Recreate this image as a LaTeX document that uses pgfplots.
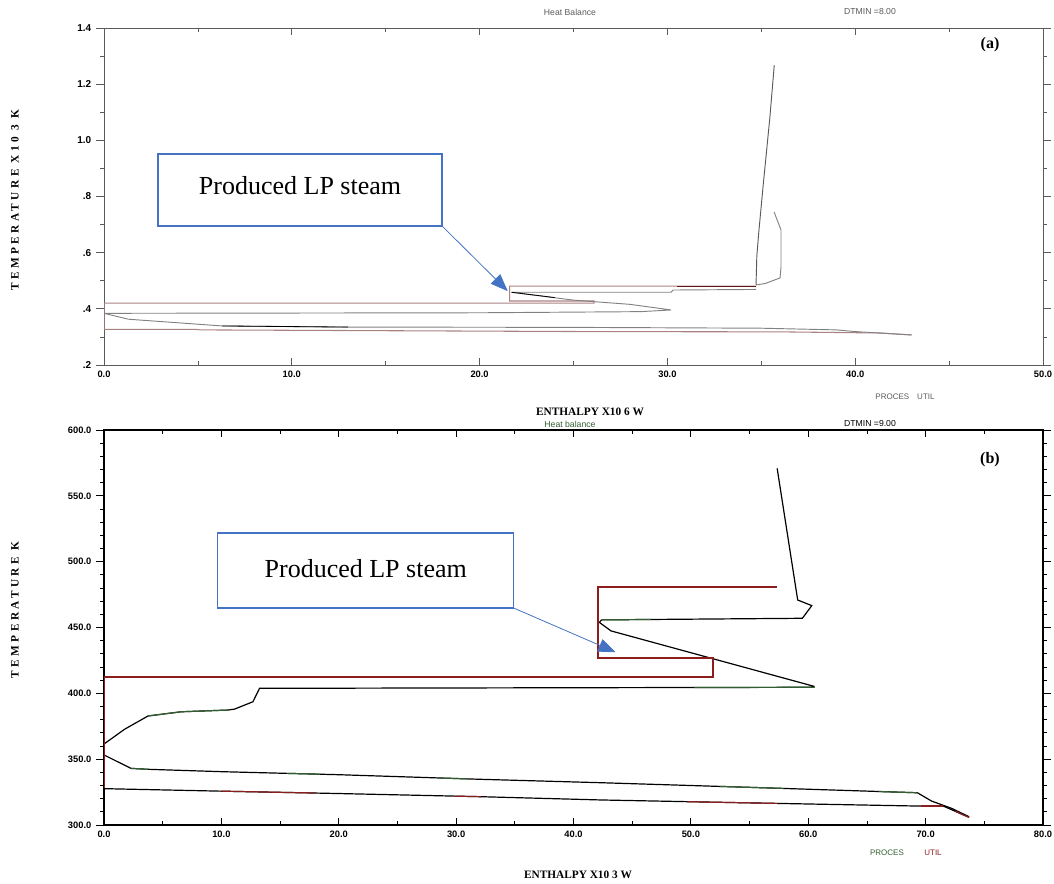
\documentclass[border=0pt]{standalone}
\usepackage{fontspec}
\setmainfont{Liberation Sans}
\newfontfamily\tnr{Liberation Serif}
\newfontfamily\tnrspaced[LetterSpace=30]{Liberation Serif}
\usepackage{pgfplots}
\pgfplotsset{compat=1.18}
\usetikzlibrary{arrows.meta}

\definecolor{boxblue}{RGB}{68,114,196}
\definecolor{agrey}{RGB}{130,130,130}
\definecolor{adark}{RGB}{90,90,90}
\definecolor{arose}{RGB}{170,130,130}
\definecolor{utilred}{RGB}{140,30,30}
\definecolor{procgreen}{RGB}{50,95,50}

% 1 px of the reference = 0.75pt
\pgfplotsset{
  panel/.style={
    at={(78pt,#1)}, anchor=south west, scale only axis,
    width=704.25pt,
  },
  ticksx/.style={
    tick align=inside, ytick=\empty,
    major tick length=5pt, minor tick length=3pt,
    xticklabel style={font=\bfseries\fontsize{7}{8}\selectfont, yshift=-1pt},
  },
  ticksy/.style={
    tick align=outside, xtick=\empty,
    major tick length=6pt, minor tick length=3pt,
    yticklabel style={font=\bfseries\fontsize{7}{8}\selectfont},
    axis line style={draw=none},
  },
}

\begin{document}
\begin{tikzpicture}
\path[use as bounding box] (0,0) rectangle (790.5pt,662.25pt);

% ---------------- panel (a) ----------------
\begin{axis}[panel=388.5pt, height=252.75pt, ticksx,
  xmin=0, xmax=50, ymin=0.2, ymax=1.4,
  xtick={0,10,20,30,40,50}, xticklabels={0.0,10.0,20.0,30.0,40.0,50.0},
  minor x tick num=1,
  axis line style={adark, line width=0.6pt},
  every tick/.style={adark, line width=0.5pt}]
\addplot[adark, line width=0.7pt] coordinates {(35.69,1.268) (35.46,1.084) (35.11,0.847) (34.86,0.669) (34.76,0.586) (34.72,0.485)};
\addplot[agrey, line width=0.7pt] coordinates {(35.68,0.745) (36.05,0.681) (36.05,0.549) (36.0,0.510) (35.2,0.490) (34.72,0.485)};
\addplot[arose, line width=0.8pt] coordinates {(34.72,0.481) (21.6,0.481) (21.6,0.428) (26.1,0.428) (26.1,0.420) (0,0.420) (0,0.327) (4.9,0.327) (5.1,0.325) (15.4,0.322) (25.7,0.319) (36.0,0.318) (41.3,0.314) (43.0,0.307)};
\addplot[agrey, line width=0.7pt] coordinates {(34.72,0.469) (30.3,0.467) (30.2,0.459) (21.7,0.459) (25.0,0.431) (28.0,0.416) (30.2,0.396) (28.6,0.390) (20.1,0.386) (0,0.384) (1.3,0.363) (6.3,0.339) (13.0,0.335) (24.9,0.334) (35.0,0.331) (39.0,0.325) (40.0,0.319) (43.0,0.307)};
\addplot[black, line width=0.6pt] coordinates {(6.3,0.339) (13.0,0.335)};
\addplot[black, line width=0.6pt] coordinates {(21.7,0.459) (24.0,0.440)};
\addplot[utilred!70!black, line width=0.6pt] coordinates {(30.5,0.481) (34.72,0.481)};
\draw[boxblue, line width=0.9pt, fill=white] (axis cs:2.88,0.695) rectangle (axis cs:18.0,0.951);
\node[font=\tnr\fontsize{19.5}{22}\selectfont] at (axis cs:10.44,0.838) {Produced LP steam};
\draw[boxblue, line width=0.6pt, -{Triangle[length=13pt,width=10pt]}] (axis cs:18.0,0.695) -- (axis cs:21.5,0.463);
\end{axis}
\begin{axis}[panel=388.5pt, height=252.75pt, ticksy,
  xmin=0, xmax=50, ymin=0.2, ymax=1.4,
  ytick={0.2,0.4,0.6,0.8,1.0,1.2,1.4}, yticklabels={.2,.4,.6,.8,1.0,1.2,1.4},
  minor y tick num=1,
  yticklabel style={font=\bfseries\fontsize{7.5}{8}\selectfont},
  every tick/.style={adark, line width=0.5pt}]
\end{axis}

\node[font=\fontsize{6.5}{7}\selectfont, text=adark] at (427.5pt,653.25pt) {Heat Balance};
\node[font=\fontsize{6.5}{7}\selectfont, text=adark] at (652.5pt,653.25pt) {DTMIN =8.00};
\node[font=\tnr\bfseries\fontsize{12}{14}\selectfont] at (742.5pt,628.5pt) {(a)};
\node[font=\fontsize{6}{7}\selectfont, text=adark] at (678.75pt,364.5pt) {PROCES\quad UTIL};
\node[font=\tnr\bfseries\fontsize{8.5}{10}\selectfont] at (442.5pt,353.25pt) {ENTHALPY X10 6 W};
\node[font=\tnrspaced\bfseries\fontsize{8.5}{10}\selectfont, rotate=90] at (11.25pt,512pt) {TEMPERATURE X10 3 K};

% ---------------- panel (b) ----------------
\begin{axis}[panel=43.5pt, height=296.25pt, ticksx,
  xmin=0, xmax=80, ymin=300, ymax=600,
  xtick={0,10,20,30,40,50,60,70,80}, xticklabels={0.0,10.0,20.0,30.0,40.0,50.0,60.0,70.0,80.0},
  minor x tick num=1,
  axis line style={black, line width=1pt},
  every tick/.style={black, line width=0.6pt}]
\addplot[black, line width=0.9pt] coordinates {(57.35,570.9) (59.1,470.9) (60.3,466.6) (59.5,457) (42.4,455.8) (42.2,453.9) (43.2,447.4) (60.5,405.3) (60.5,404.6) (13.25,403.8) (12.69,393.6) (11.12,388) (10.56,387.3) (6.58,386) (3.75,382.8) (1.75,372.7) (0,361.5)};
\addplot[black, line width=0.9pt] coordinates {(0,353.2) (2.3,343) (3.75,342.3) (10,340.5) (20,338.2) (32.1,334.7) (42.4,332.1) (55,328.6) (69.3,324.5) (70.5,318.2) (72.2,312.7) (73.7,306.3)};
\addplot[black, line width=0.9pt] coordinates {(0,327.6) (10,325.7) (20,323.9) (32.1,321.5) (42.4,319) (55,316.8) (69.3,314.4) (71.5,314.4) (73.7,305.8)};
% green pieces of the process curves
\addplot[procgreen, line width=0.9pt] coordinates {(42.4,455.8) (46.6,456.1)};
\addplot[procgreen, line width=0.9pt] coordinates {(50.3,404.4) (60.5,404.6)};
\addplot[procgreen, line width=0.9pt] coordinates {(3.75,382.8) (6.58,386) (10.56,387.3)};
\addplot[procgreen, line width=0.9pt] coordinates {(2.3,343) (3.75,342.3)};
\addplot[procgreen, line width=0.9pt] coordinates {(15.6,339.2) (18.4,338.6)};
\addplot[procgreen, line width=0.9pt] coordinates {(28.6,335.7) (31.0,335.0)};
\addplot[procgreen, line width=0.9pt] coordinates {(52.5,329.3) (57.9,327.8)};
\addplot[procgreen, line width=0.9pt] coordinates {(66.0,325.4) (69.3,324.5)};
% red pieces of the bottom line
\addplot[utilred, line width=0.9pt] coordinates {(10,325.7) (18,324.3)};
\addplot[utilred, line width=0.9pt] coordinates {(29.9,321.9) (32.1,321.5)};
\addplot[utilred, line width=0.9pt] coordinates {(49.7,317.7) (57.4,316.4)};
\addplot[utilred, line width=0.9pt] coordinates {(69.6,314.4) (71.5,314.4)};
\addplot[utilred, line width=0.9pt] coordinates {(72.5,310.5) (73.7,305.8)};
% utility curve
\addplot[utilred, line width=1.3pt] coordinates {(57.35,481) (42.1,481) (42.1,426.6) (51.9,426.6) (51.9,412.2) (0,412.2) (0,327.9)};
\draw[boxblue, line width=0.9pt, fill=white] (axis cs:9.65,464.8) rectangle (axis cs:34.9,521.8);
\node[font=\tnr\fontsize{19.5}{22}\selectfont] at (axis cs:22.3,494.5) {Produced LP steam};
\draw[boxblue, line width=0.6pt, -{Triangle[length=13pt,width=10pt]}] (axis cs:34.9,464.8) -- (axis cs:43.6,431.2);
\end{axis}
\begin{axis}[panel=43.5pt, height=296.25pt, ticksy,
  xmin=0, xmax=80, ymin=300, ymax=600,
  ytick={300,350,400,450,500,550,600}, yticklabels={300.0,350.0,400.0,450.0,500.0,550.0,600.0},
  minor y tick num=4,
  every tick/.style={black, line width=0.6pt}]
\end{axis}

\node[font=\fontsize{6.5}{7}\selectfont, text=procgreen] at (427.5pt,344.25pt) {Heat balance};
\node[font=\fontsize{6.5}{7}\selectfont, text=black] at (652.5pt,344.25pt) {DTMIN =9.00};
\node[font=\tnr\bfseries\fontsize{12}{14}\selectfont] at (742.5pt,317.25pt) {(b)};
\node[font=\fontsize{6}{7}\selectfont, text=procgreen] at (665.25pt,22.5pt) {PROCES};
\node[font=\fontsize{6}{7}\selectfont, text=utilred] at (699.75pt,22.5pt) {UTIL};
\node[font=\tnr\bfseries\fontsize{8.5}{10}\selectfont] at (433.5pt,6pt) {ENTHALPY X10 3 W};
\node[font=\tnrspaced\bfseries\fontsize{8.5}{10}\selectfont, rotate=90] at (11.25pt,204.75pt) {TEMPERATURE K};
\end{tikzpicture}
\end{document}
